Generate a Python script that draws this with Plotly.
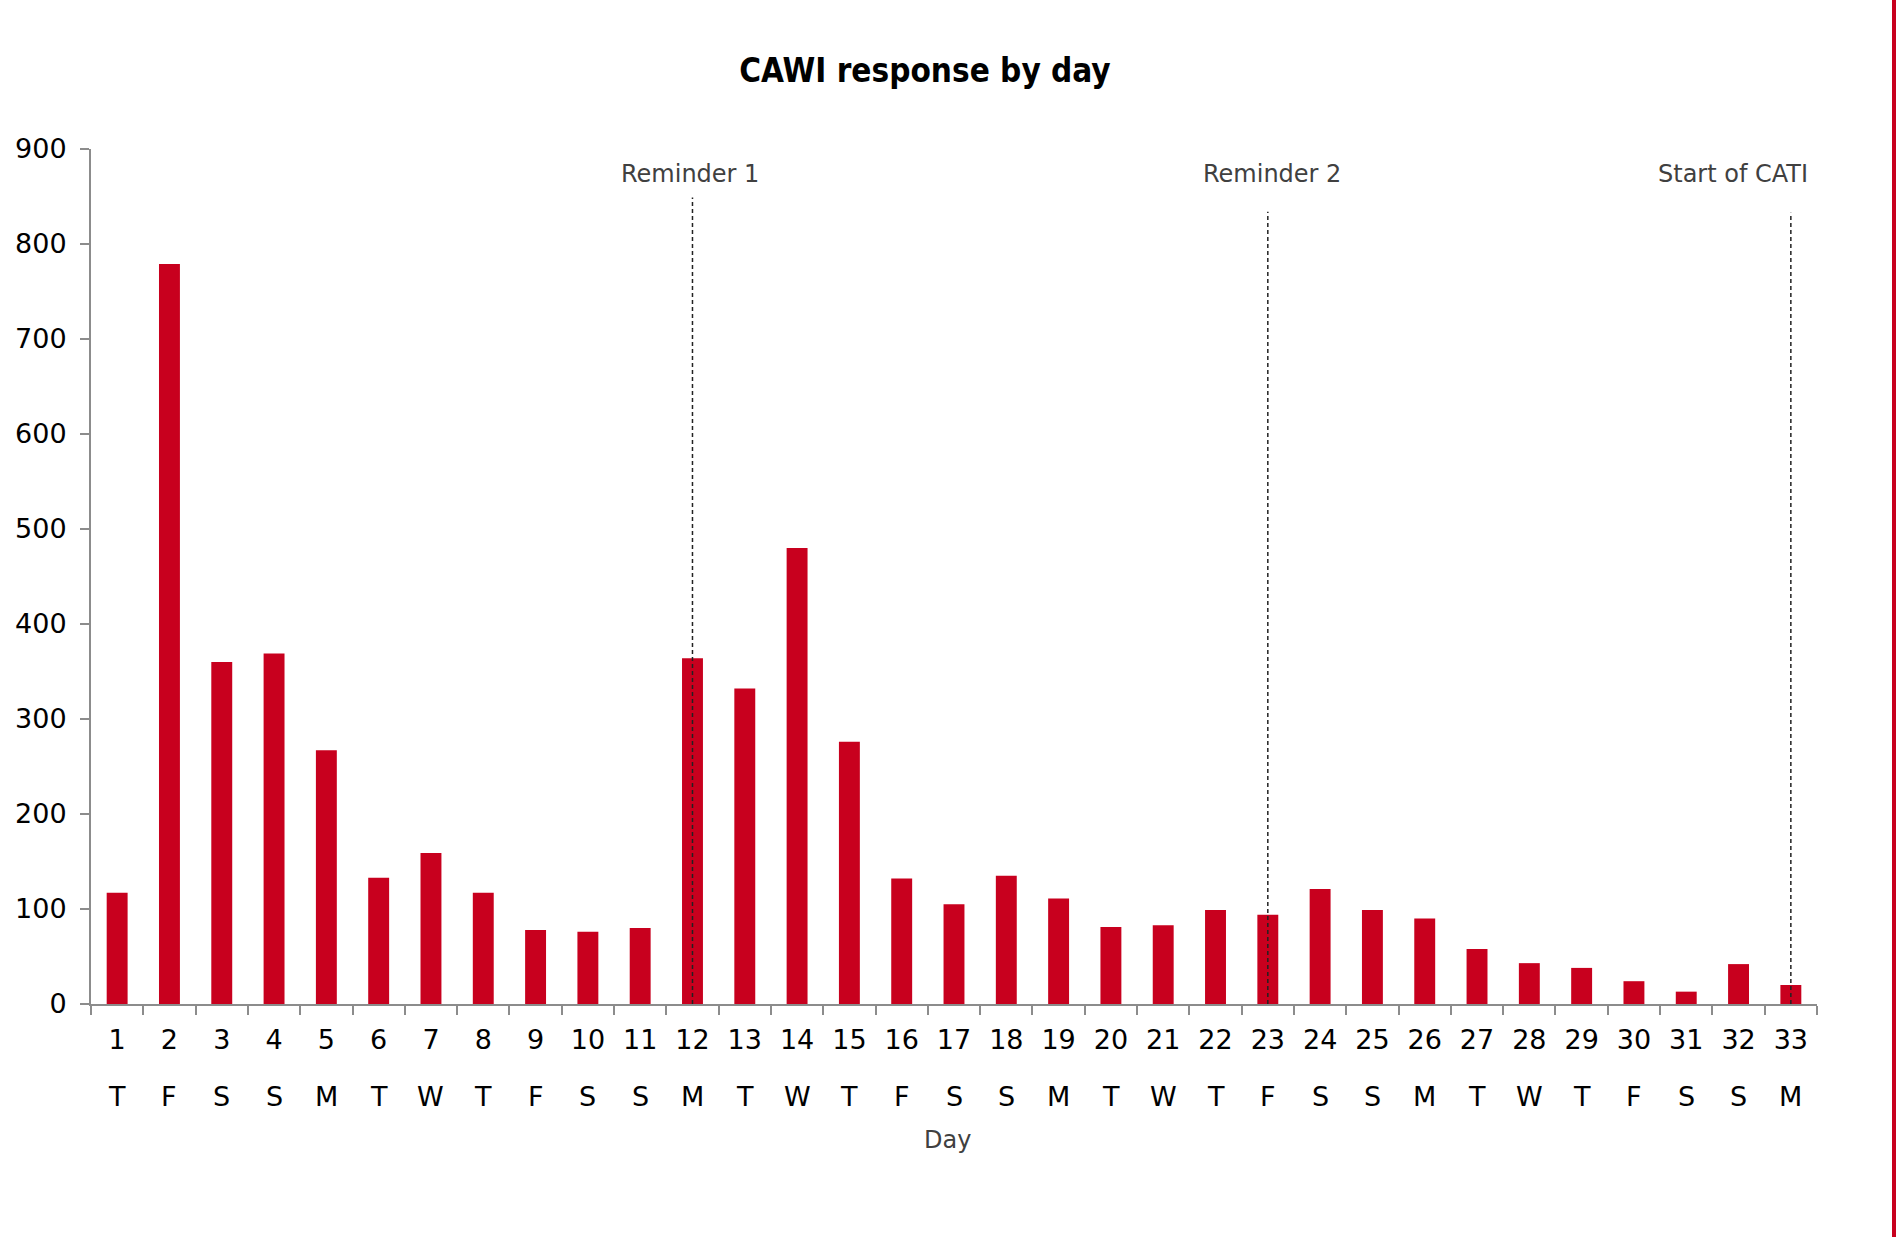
import plotly.graph_objects as go

days = [str(d) for d in range(1, 34)]
weekdays = ["T", "F", "S", "S", "M", "T", "W", "T", "F", "S", "S", "M", "T", "W", "T", "F",
            "S", "S", "M", "T", "W", "T", "F", "S", "S", "M", "T", "W", "T", "F", "S", "S", "M"]
responses = [117, 779, 360, 369, 267, 133, 159, 117, 78, 76, 80, 364, 332, 480, 276, 132,
             105, 135, 111, 81, 83, 99, 94, 121, 99, 90, 58, 43, 38, 24, 13, 42, 20]

event_days = ["12", "23", "33"]
event_labels = ["Reminder 1", "Reminder 2", "Start of CATI"]
event_line_tops = [849, 834, 833]
event_label_shift = [-2, 4, -58]

RED = "#C8001E"
AXIS = "#8C8C8C"
FONT = "DejaVu Sans, Verdana, sans-serif"

W, H = 1896, 1237
L, R, T, B = 91, 79, 149, 233

fig = go.Figure()
fig.add_trace(go.Bar(x=days, y=responses, marker=dict(color=RED, line=dict(width=0)),
                     hoverinfo="x+y"))

shapes = []
annotations = []
for d, lab, top, sh in zip(event_days, event_labels, event_line_tops, event_label_shift):
    xi = days.index(d)
    shapes.append(dict(type="line", xref="x", yref="y", x0=xi, x1=xi, y0=0, y1=top,
                       line=dict(color="#222222", width=1.5, dash="4px,3px"), layer="above"))
    annotations.append(dict(xref="x", yref="y", x=xi, y=874, text=lab, showarrow=False,
                            xshift=sh, font=dict(family=FONT, size=24, color="#404040"),
                            xanchor="center", yanchor="middle"))

for i, w in enumerate(weekdays):
    annotations.append(dict(xref="x", yref="paper", x=i, y=0, yshift=-92, text=w,
                            showarrow=False, font=dict(family=FONT, size=27, color="#000000"),
                            xanchor="center", yanchor="middle"))

annotations.append(dict(xref="paper", yref="paper", x=(947 - L) / (W - L - R), y=0, yshift=-136,
                        text="Day", showarrow=False,
                        font=dict(family=FONT, size=24, color="#404040"),
                        xanchor="center", yanchor="middle"))

# right edge red stripe
pw = W - L - R
shapes.append(dict(type="rect", xref="paper", yref="paper",
                   x0=(1892 - L) / pw, x1=(1897 - L) / pw, y0=-0.35, y1=1.25,
                   fillcolor=RED, line=dict(width=0), layer="above"))

fig.update_layout(
    width=W, height=H,
    margin=dict(l=L, r=R, t=T, b=B, pad=0),
    paper_bgcolor="white", plot_bgcolor="white",
    showlegend=False,
    bargap=0.6,
    title=dict(text="<b>CAWI response by day</b>", xref="container", yref="container",
               x=925 / W, y=1 - 70 / H, xanchor="center", yanchor="middle",
               font=dict(family="DejaVu Sans Condensed, Liberation Sans, DejaVu Sans", size=33,
                         color="#000000")),
    xaxis=dict(type="category", showline=True, linecolor=AXIS, linewidth=2,
               ticks="outside", tickson="boundaries", ticklen=9, tickwidth=2, tickcolor=AXIS,
               tickfont=dict(family=FONT, size=27, color="#000000"),
               showgrid=False, zeroline=False, ticklabelstandoff=11),
    yaxis=dict(range=[0, 900], tickvals=[0, 100, 200, 300, 400, 500, 600, 700, 800, 900],
               showline=True, linecolor=AXIS, linewidth=2,
               ticks="outside", ticklen=9, tickwidth=2, tickcolor=AXIS,
               tickfont=dict(family=FONT, size=27, color="#000000"),
               showgrid=False, zeroline=False, ticklabelstandoff=8),
    shapes=shapes,
    annotations=annotations,
)

fig.write_html("out.html",
               config={"displayModeBar": False},
               post_script="document.body.style.margin='0';"
                           "document.body.style.overflow='hidden';"
                           "document.documentElement.style.overflow='hidden';")
